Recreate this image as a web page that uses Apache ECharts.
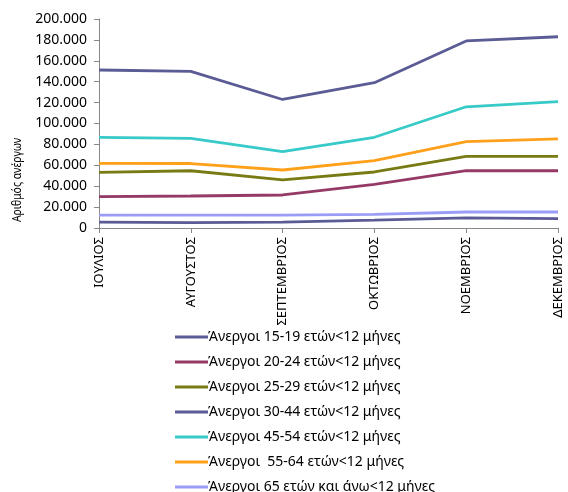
<!DOCTYPE html>
<html>
<head>
<meta charset="utf-8">
<script src="https://cdn.jsdelivr.net/npm/echarts@6/dist/echarts.min.js"></script>
<style>
  html, body { margin: 0; padding: 0; background: #fff; }
  #chart { width: 568px; height: 492px; }
</style>
</head>
<body>
<div id="chart"></div>
<script>
// μήνες
var months = ["ΙΟΥΛΙΟΣ", "ΑΥΓΟΥΣΤΟΣ", "ΣΕΠΤΕΜΒΡΙΟΣ", "ΟΚΤΩΒΡΙΟΣ", "ΝΟΕΜΒΡΙΟΣ", "ΔΕΚΕΜΒΡΙΟΣ"];

var names = [
    "Άνεργοι 15-19 ετών<12 μήνες",
    "Άνεργοι 20-24 ετών<12 μήνες",
    "Άνεργοι 25-29 ετών<12 μήνες",
    "Άνεργοι 30-44 ετών<12 μήνες",
    "Άνεργοι 45-54 ετών<12 μήνες",
    "Άνεργοι  55-64 ετών<12 μήνες",
    "Άνεργοι 65 ετών και άνω<12 μήνες"
];

var age15_19 = [5700, 5200, 5600, 7500, 9600, 8900];
var age20_24 = [30000, 30600, 31600, 41800, 54800, 54800];
var age25_29 = [53300, 54800, 46000, 53600, 68600, 68600];
var age30_44 = [151200, 149800, 123000, 139000, 179000, 183000];
var age45_54 = [86800, 85800, 73000, 86800, 116000, 121000];
var age55_64 = [61900, 61700, 55500, 64400, 82600, 85200];
var age65 = [12400, 12400, 12400, 13000, 15300, 15300];

var yTicks = { min: 0, max: 200000, interval: 20000 };

var colors = ["#5b5b95", "#953a66", "#787a14", "#5b5b95", "#38c9c9", "#ffa01a", "#9a9cf5"];
var data = [age15_19, age20_24, age25_29, age30_44, age45_54, age55_64, age65];

var series = [];
for (var i = 0; i < names.length; i++) {
    series.push({
        name: names[i],
        type: "line",
        data: data[i],
        symbol: "none",
        color: colors[i],
        lineStyle: { width: 2.8 }
    });
}

var myChart = echarts.init(document.getElementById("chart"));
var option = {
    animation: false,
    textStyle: { fontFamily: "Noto Sans" },
    grid: { left: 99, right: 10, top: 19, bottom: 264 },
    xAxis: {
        type: "category",
        data: months,
        boundaryGap: false,
        axisLine: { lineStyle: { color: "#888" } },
        axisTick: { length: 5, lineStyle: { color: "#888" } },
        axisLabel: { rotate: 90, color: "#000", fontSize: 13, margin: 9 }
    },
    yAxis: {
        type: "value",
        min: yTicks.min,
        max: yTicks.max,
        interval: yTicks.interval,
        splitLine: { show: false },
        axisLine: { show: true, lineStyle: { color: "#888" } },
        axisTick: { show: true, length: 5, lineStyle: { color: "#888" } },
        axisLabel: {
            color: "#000",
            fontSize: 14,
            margin: 12,
            formatter: function (v) { return v === 0 ? "0" : (v / 1000) + ".000"; }
        }
    },
    legend: {
        orient: "vertical",
        left: 175,
        top: 330,
        height: 200,
        padding: 0,
        icon: "rect",
        itemWidth: 33,
        itemHeight: 3,
        itemGap: 11,
        textStyle: { color: "#000", fontSize: 14, lineHeight: 14, padding: [0, 0, 0, -5] },
        data: names
    },
    graphic: [{
        type: "text",
        x: 17,
        y: 180,
        rotation: Math.PI / 2,
        scaleX: 0.8,
        style: {
            text: "Αριθμός ανέργων",
            fill: "#000",
            font: "13px 'Noto Sans'",
            textAlign: "center",
            textVerticalAlign: "middle"
        }
    }],
    series: series
};
myChart.setOption(option);
</script>
</body>
</html>
